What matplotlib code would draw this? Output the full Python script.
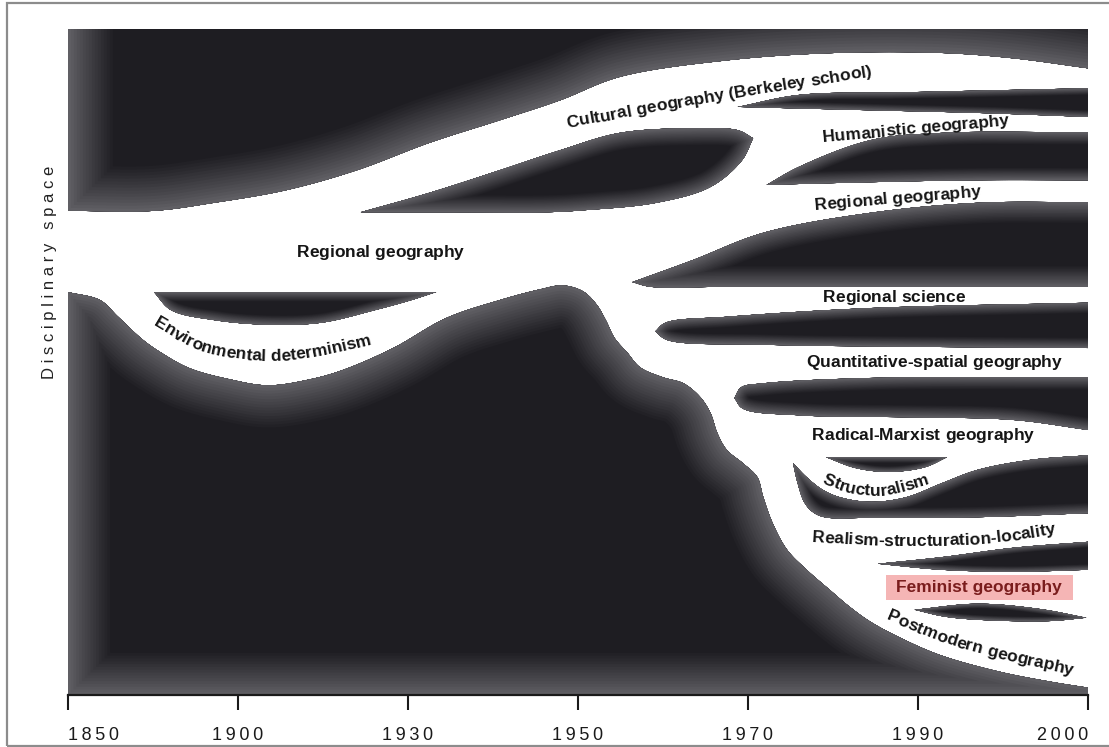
import numpy as np
import matplotlib
matplotlib.use("Agg")
import matplotlib.pyplot as plt
from matplotlib.patches import Polygon, Rectangle
from matplotlib.font_manager import FontProperties, findfont, get_font

# ---- data: years on x, "disciplinary space" (0-100) on y ----
tick_years = [1850, 1900, 1930, 1950, 1970, 1990, 2000]

# old established block at the top (its lower edge)
upper_block_top = [(1850, 118), (2000, 118)]
upper_block_bottom = [(1850, 72.7), (1875.3, 72.7), (1892.9, 73.9), (1908.5, 75.8), (1921.0, 78.8),
                      (1932.5, 82.9), (1940.8, 86.3), (1947.9, 89.3), (1954.9, 92.8), (1967.6, 95.3),
                      (1980.2, 96.4), (1991.4, 96.4), (1995.6, 95.6), (2000, 94.1)]

# big block at the bottom (its upper edge)
lower_block_top = [(1850, 60.5), (1859.4, 59.3), (1864.7, 56.8), (1872.1, 53.3), (1877.4, 51.4),
                   (1885.6, 49.1), (1897.6, 47.4), (1905.3, 46.5), (1912.7, 47.4), (1918.5, 48.8),
                   (1927.4, 52.1), (1934.5, 56.6), (1940.8, 59.3), (1945.5, 60.9), (1948.2, 61.5),
                   (1950.6, 60.6), (1952.2, 58.6), (1953.3, 56.2), (1954.3, 53.6), (1955.8, 51.4),
                   (1957.3, 49.2), (1960.0, 47.7), (1962.4, 46.8), (1964.4, 44.7), (1965.6, 42.3),
                   (1966.4, 39.3), (1967.5, 36.8), (1969.4, 34.8), (1971.1, 32.7), (1971.8, 29.7),
                   (1972.9, 25.8), (1974.6, 21.8), (1976.9, 18.8), (1979.6, 15.8), (1982.0, 13.2),
                   (1984.4, 11.0), (1987.9, 8.6), (1991.3, 6.0), (1994.8, 3.5), (1997.8, 2.0), (2000, 1.1)]
lower_block_bottom = [(1850, 0), (2000, 0)]

# the lens shaped islands between the white paradigm channels
env_lens_top = [(1875.3, 60.5), (1933.3, 60.5)]
env_lens_bottom = [(1875.3, 60.5), (1880.3, 57.8), (1892.9, 56.3), (1905.3, 55.6), (1914.7, 55.9),
                   (1924.2, 57.8), (1930.4, 59.3), (1933.3, 60.5)]

cultural_lens_top = [(1921.7, 72.5), (1932.5, 75.4), (1940.8, 78.8), (1947.9, 81.8), (1954.9, 84.4),
                     (1963.5, 85.1), (1968.8, 84.8), (1970.6, 83.6)]
cultural_lens_bottom = [(1921.7, 72.5), (1935.0, 72.5), (1946.6, 72.5), (1950.8, 72.8), (1959.2, 73.9),
                        (1965.6, 76.3), (1969.3, 80.3), (1970.6, 83.6)]

humanistic_lens_top = [(1968.8, 88.3), (1976.0, 90.1), (1988.6, 90.5), (2000, 91.1)]
humanistic_lens_bottom = [(1968.8, 88.3), (1984.4, 87.8), (1993.5, 87.4), (2000, 86.8)]

regional_lens_top = [(1972.2, 76.6), (1976.0, 79.3), (1984.4, 83.3), (1991.4, 84.4), (2000, 84.5)]
regional_lens_bottom = [(1972.2, 76.6), (1984.4, 77.0), (1993.5, 77.3), (2000, 77.3)]

science_lens_top = [(1956.4, 62.0), (1963.5, 65.3), (1971.8, 69.4), (1984.4, 72.4), (1993.5, 73.9), (2000, 74.0)]
science_lens_bottom = [(1956.4, 62.0), (1958.5, 61.3), (1967.6, 61.3), (1984.4, 61.3), (2000, 61.3)]

quant_lens_top = [(1959.1, 54.6), (1960.3, 55.9), (1967.6, 56.8), (1984.4, 58.1), (2000, 58.9)]
quant_lens_bottom = [(1959.1, 54.6), (1960.5, 53.3), (1971.8, 52.6), (1988.6, 52.3), (2000, 52.1)]

radical_lens_top = [(1968.4, 44.6), (1969.2, 46.2), (1971.8, 46.8), (1984.4, 47.6), (2000, 47.7)]
radical_lens_bottom = [(1968.4, 44.6), (1969.4, 43.0), (1976.0, 42.0), (1988.6, 41.7), (1995.6, 41.3), (2000, 39.8)]

struct_lens_top = [(1979.2, 35.7), (1991.7, 35.7)]
struct_lens_bottom = [(1979.2, 35.7), (1982.6, 34.1), (1986.5, 33.5), (1990.4, 34.2), (1991.7, 35.7)]

hook_top = [(1975.3, 34.8), (1976.9, 32.7), (1978.8, 30.8), (1980.8, 29.7), (1984.4, 29.0), (1988.6, 29.7),
            (1991.4, 31.8), (1993.5, 33.8), (1996.6, 35.3), (2000, 36.0)]
hook_bottom = [(1975.3, 34.8), (1975.8, 32.0), (1976.6, 29.0), (1977.6, 27.5), (1979.0, 26.7),
               (1984.4, 26.6), (1993.5, 26.7), (2000, 27.3)]

realism_lens_top = [(1985.3, 19.7), (1991.4, 20.7), (1995.6, 22.1), (2000, 23.0)]
realism_lens_bottom = [(1985.3, 19.7), (1991.4, 18.8), (1995.6, 18.5), (2000, 18.8)]

postmodern_lens_top = [(1989.6, 12.8), (1993.5, 13.7), (1997.2, 12.9), (1999.9, 11.6)]
postmodern_lens_bottom = [(1989.6, 12.8), (1991.5, 11.8), (1993.5, 11.3), (1997.7, 11.1), (1999.9, 11.6)]

# paradigm names, written along their channel (baseline path)
paradigm_names = ["Regional geography", "Environmental determinism", "Cultural geography (Berkeley school)",
                  "Humanistic geography", "Regional geography", "Regional science",
                  "Quantitative-spatial geography", "Radical-Marxist geography", "Structuralism",
                  "Realism-structuration-locality", "Postmodern geography"]
paradigm_paths = [[(1907.4, 65.8), (1938.5, 65.8)],
                  [(1874.7, 55.6), (1888.2, 51.8), (1902.1, 50.3), (1909.2, 50.3), (1916.2, 51.2), (1923.8, 52.7)],
                  [(1947.9, 85.0), (1966.7, 89.3), (1985.5, 93.1)],
                  [(1978.5, 83.0), (1995.5, 85.6)],
                  [(1977.6, 72.8), (1993.8, 74.9)],
                  [(1978.5, 59.0), (1992.9, 59.0)],
                  [(1976.6, 49.2), (1998.6, 49.2)],
                  [(1977.3, 38.3), (1996.9, 38.3)],
                  [(1978.1, 32.1), (1982.0, 30.3), (1986.1, 30.0), (1991.0, 32.0)],
                  [(1977.1, 23.0), (1987.9, 22.4), (1994.2, 22.8), (1998.3, 24.3)],
                  [(1986.2, 11.4), (1991.3, 8.0), (1995.1, 5.3), (1999.1, 3.0)]]
feminist_label = "Feminist geography"
feminist_box = [(1986.2, 14.3), (1999.1, 18.0)]

CORE = np.array([0x1e, 0x1d, 0x22]) / 255
RIM = np.array([0x66, 0x65, 0x6a]) / 255

plt.rcParams['font.family'] = ['Liberation Sans', 'DejaVu Sans']


def fwd(x):
    return np.interp(x, tick_years, np.arange(len(tick_years)))


def inv(p):
    return np.interp(p, np.arange(len(tick_years)), tick_years)


def spline(ax, pts, n=24):
    """centripetal Catmull-Rom through the points, done in display space"""
    d = ax.transData.transform(np.asarray(pts, float))
    if len(d) == 2:
        return np.linspace(d[0], d[1], n)
    P = np.vstack([2 * d[0] - d[1], d, 2 * d[-1] - d[-2]])
    out = [d[:1]]
    for i in range(len(P) - 3):
        p0, p1, p2, p3 = P[i:i + 4]
        t0 = 0.0
        t1 = t0 + np.linalg.norm(p1 - p0) ** 0.5
        t2 = t1 + np.linalg.norm(p2 - p1) ** 0.5
        t3 = t2 + np.linalg.norm(p3 - p2) ** 0.5
        t = np.linspace(t1, t2, n + 1)[1:, None]
        a1 = (t1 - t) / (t1 - t0) * p0 + (t - t0) / (t1 - t0) * p1
        a2 = (t2 - t) / (t2 - t1) * p1 + (t - t1) / (t2 - t1) * p2
        a3 = (t3 - t) / (t3 - t2) * p2 + (t - t2) / (t3 - t2) * p3
        b1 = (t2 - t) / (t2 - t0) * a1 + (t - t0) / (t2 - t0) * a2
        b2 = (t3 - t) / (t3 - t1) * a2 + (t - t1) / (t3 - t1) * a3
        out.append((t2 - t) / (t2 - t1) * b1 + (t - t1) / (t2 - t1) * b2)
    return np.vstack(out)


def to_data(ax, disp):
    return ax.transData.inverted().transform(disp)


def dark_shape(ax, top, bottom, rim_px):
    a, b = spline(ax, top), spline(ax, bottom)
    body = Polygon(to_data(ax, np.vstack([a, b[::-1]])), closed=True, fc=CORE, ec="none", zorder=1)
    ax.add_patch(body)
    # lighter rim fading into the dark core, left open on the right-hand frame side
    rim_line = to_data(ax, np.vstack([a[::-1], b]))
    for d in np.linspace(1, 0.06, 16):
        col = RIM + (CORE - RIM) * d ** 0.9
        edge = Polygon(rim_line, closed=False, fill=False, ec=col, lw=2 * rim_px * d * 72 / fig.dpi,
                       joinstyle="round", capstyle="butt", zorder=1)
        ax.add_patch(edge)
        edge.set_clip_path(body)


def path_text(ax, text, path, fp, color="#151515"):
    font = get_font(findfont(fp))
    font.set_size(fp.get_size_in_points(), fig.dpi)
    adv = np.array([font.load_char(ord(c)).linearHoriAdvance / 65536 for c in text])
    curve = spline(ax, path, 40)
    t0 = curve[1] - curve[0]
    t1 = curve[-1] - curve[-2]
    curve = np.vstack([curve[0] - 300 * t0 / np.hypot(*t0), curve, curve[-1] + 300 * t1 / np.hypot(*t1)])
    s = np.concatenate([[0], np.cumsum(np.hypot(*np.diff(curve, axis=0).T))])
    centers = s[-1] / 2 - adv.sum() / 2 + np.cumsum(adv) - adv / 2
    for c, sc in zip(text, centers):
        x, y = np.interp(sc, s, curve[:, 0]), np.interp(sc, s, curve[:, 1])
        dx = np.interp(sc + 3, s, curve[:, 0]) - np.interp(sc - 3, s, curve[:, 0])
        dy = np.interp(sc + 3, s, curve[:, 1]) - np.interp(sc - 3, s, curve[:, 1])
        xd, yd = to_data(ax, [[x, y]])[0]
        ax.text(xd, yd, c, rotation=np.degrees(np.arctan2(dy, dx)), rotation_mode="anchor",
                ha="center", va="baseline", fontproperties=fp, color=color, zorder=3)


fig = plt.figure(figsize=(11.09, 7.47), dpi=100)
ax = fig.add_axes([68 / 1109, 52 / 747, 1020 / 1109, 666 / 747])
ax.set_xscale("function", functions=(fwd, inv))
ax.set_xlim(1850, 2000)
ax.set_ylim(0, 100)

shapes = [(upper_block_top, upper_block_bottom, 48), (lower_block_top, lower_block_bottom, 45),
          (env_lens_top, env_lens_bottom, 10), (cultural_lens_top, cultural_lens_bottom, 18),
          (humanistic_lens_top, humanistic_lens_bottom, 7), (regional_lens_top, regional_lens_bottom, 13),
          (science_lens_top, science_lens_bottom, 22), (quant_lens_top, quant_lens_bottom, 11),
          (radical_lens_top, radical_lens_bottom, 13), (struct_lens_top, struct_lens_bottom, 6),
          (hook_top, hook_bottom, 11), (realism_lens_top, realism_lens_bottom, 6),
          (postmodern_lens_top, postmodern_lens_bottom, 5)]
for top, bottom, rim in shapes:
    dark_shape(ax, top, bottom, rim)

label_font = FontProperties(family=["Liberation Sans", "DejaVu Sans"], weight="bold", size=12.5)
for name, path in zip(paradigm_names, paradigm_paths):
    path_text(ax, name, path, label_font)

(bx0, by0), (bx1, by1) = feminist_box
ax.add_patch(Rectangle((bx0, by0), bx1 - bx0, by1 - by0, fc="#f5b5b5", ec="none", zorder=2))
cx, cy = to_data(ax, [ax.transData.transform(feminist_box).mean(axis=0)])[0]
ax.text(cx, cy, feminist_label, ha="center", va="center",
        fontproperties=label_font, color="#7a1d1d", zorder=3)

ax.set_xticks(tick_years)
ax.set_xticklabels(["\u2009".join(str(t)) for t in tick_years])
ticklabels = ax.get_xticklabels()
ticklabels[0].set_horizontalalignment("left")
ticklabels[-1].set_horizontalalignment("right")
ax.set_yticks([])
for side in ["left", "top", "right"]:
    ax.spines[side].set_visible(False)
ax.spines["bottom"].set_linewidth(1.6)
ax.spines["bottom"].set_color("#1a1a1a")
ax.spines["bottom"].set_zorder(4)
ax.tick_params(axis="x", length=11, width=1.5, pad=12, labelsize=13, colors="#1a1a1a")

ax.set_ylabel(" ".join("Disciplinary space"), fontsize=12, color="#222222")
ax.yaxis.set_label_coords(-0.011, 0.635)

fig.add_artist(Rectangle((7 / 1109, 1 / 747), 1.2, 743 / 747, transform=fig.transFigure,
                         fill=False, ec="#8c8c8c", lw=1.6))

fig.savefig("out.png", dpi=100)
